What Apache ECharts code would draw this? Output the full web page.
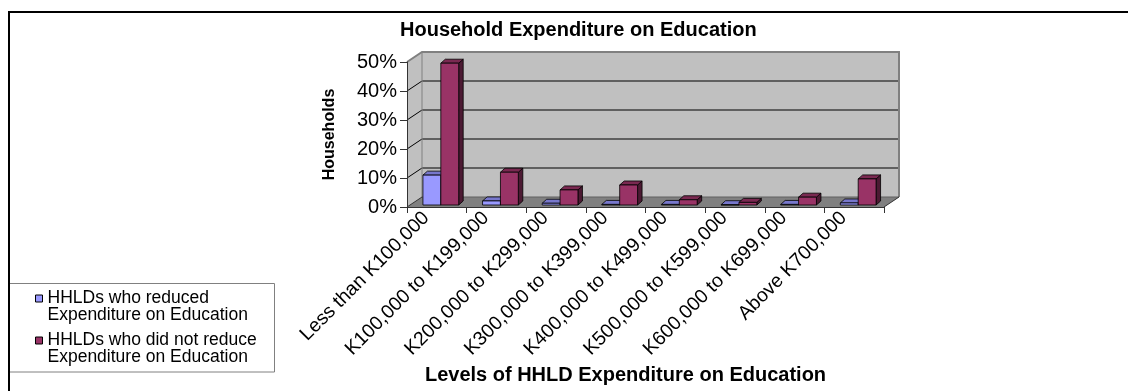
<!DOCTYPE html>
<html>
<head>
<meta charset="utf-8">
<script src="https://cdn.jsdelivr.net/npm/echarts@6/dist/echarts.min.js"></script>
<style>
  html, body { margin: 0; padding: 0; background: #fff; }
  #chart { width: 1128px; height: 391px; }
</style>
</head>
<body>
<div id="chart"></div>
<script>
// Expenditure bands (x categories)
const categories = [
  'Less than K100,000',
  'K100,000 to K199,000',
  'K200,000 to K299,000',
  'K300,000 to K399,000',
  'K400,000 to K499,000',
  'K500,000 to K599,000',
  'K600,000 to K699,000',
  'Above K700,000'
];
// Share of households (%) per band
const reduced    = [10.3, 1.4, 0.6, 0.2, 0.2, 0.1, 0.2, 0.7];
const notReduced = [48.9, 11.3, 5.2, 6.9, 1.8, 0.9, 2.7, 9.0];
// Value axis ticks (%)
const yTicks = [0, 10, 20, 30, 40, 50];

const seriesNames = [
  'HHLDs who reduced\nExpenditure on Education',
  'HHLDs who did not reduce\nExpenditure on Education'
];

const FONT = '"Liberation Sans", Arial, sans-serif';
// pseudo-3D geometry
const WALL_DEPTH = [15, -10];   // offset of the back wall from the front plane
const BAR_OFFSET = [4, -2];     // front face of the bars relative to the front plane
const BAR_DEPTH = [4.5, -4];    // thickness of each column
const BAR_RATIO = 0.3;          // column width as share of a category band

const palette = [
  { front: '#9999FF', top: '#7777CC', side: '#4D4D80' },
  { front: '#993366', top: '#7A2951', side: '#4C1A33' }
];

function wallRenderer(params, api) {
  const cs = params.coordSys;
  const [dx, dy] = WALL_DEPTH;
  const x0 = cs.x, x1 = cs.x + cs.width;
  const yBase = api.coord([0, 0])[1];
  const yTop = api.coord([0, yTicks[yTicks.length - 1]])[1];
  const children = [];
  // back wall
  children.push({ type: 'rect', shape: { x: x0 + dx, y: yTop + dy, width: cs.width, height: yBase - yTop },
    style: { fill: '#C0C0C0', stroke: null } });
  // side wall
  children.push({ type: 'polygon', shape: { points: [[x0, yTop], [x0 + dx, yTop + dy], [x0 + dx, yBase + dy], [x0, yBase]] },
    style: { fill: '#C0C0C0', stroke: null } });
  // floor
  children.push({ type: 'polygon', shape: { points: [[x0, yBase], [x1, yBase], [x1 + dx, yBase + dy], [x0 + dx, yBase + dy]] },
    style: { fill: '#808080', stroke: null } });
  // gridlines on back wall and side wall
  yTicks.forEach(function (v, i) {
    if (i === 0 || i === yTicks.length - 1) return;
    const y = api.coord([0, v])[1];
    children.push({ type: 'line', shape: { x1: x0 + dx, y1: y + dy, x2: x1 + dx, y2: y + dy },
      style: { stroke: '#000', lineWidth: 1 } });
    children.push({ type: 'line', shape: { x1: x0, y1: y, x2: x0 + dx, y2: y + dy },
      style: { stroke: '#000', lineWidth: 1 } });
  });
  // wall outlines
  children.push({ type: 'polyline', shape: { points: [[x0, yTop], [x0 + dx, yTop + dy], [x1 + dx, yTop + dy], [x1 + dx, yBase + dy]] },
    style: { stroke: '#808080', lineWidth: 2, fill: null } });
  children.push({ type: 'line', shape: { x1: x0 + dx, y1: yTop + dy, x2: x0 + dx, y2: yBase + dy },
    style: { stroke: '#808080', lineWidth: 1 } });
  children.push({ type: 'line', shape: { x1: x0 + dx, y1: yBase + dy, x2: x1 + dx, y2: yBase + dy },
    style: { stroke: '#606060', lineWidth: 1 } });
  children.push({ type: 'line', shape: { x1: x0, y1: yBase, x2: x0 + dx, y2: yBase + dy },
    style: { stroke: '#333', lineWidth: 1 } });
  children.push({ type: 'line', shape: { x1: x1, y1: yBase, x2: x1 + dx, y2: yBase + dy },
    style: { stroke: '#333', lineWidth: 1 } });
  return { type: 'group', children: children };
}

function barRenderer(sideIndex) {
  const c = palette[sideIndex];
  return function (params, api) {
    const idx = api.value(0);
    const val = api.value(1);
    const topPt = api.coord([idx, val]);
    const basePt = api.coord([idx, 0]);
    const band = api.size([1, 0])[0];
    const w = band * BAR_RATIO;
    const x0 = topPt[0] + (sideIndex === 0 ? -w : 0) + BAR_OFFSET[0];
    const x1 = x0 + w;
    const yt = topPt[1] + BAR_OFFSET[1];
    const yb = basePt[1] + BAR_OFFSET[1];
    const dx = BAR_DEPTH[0], dy = BAR_DEPTH[1];
    const line = { stroke: '#000', lineWidth: 0.8 };
    return {
      type: 'group',
      children: [
        { type: 'polygon', shape: { points: [[x1, yt], [x1 + dx, yt + dy], [x1 + dx, yb + dy], [x1, yb]] },
          style: Object.assign({ fill: c.side }, line) },
        { type: 'polygon', shape: { points: [[x0, yt], [x1, yt], [x1 + dx, yt + dy], [x0 + dx, yt + dy]] },
          style: Object.assign({ fill: c.top }, line) },
        { type: 'rect', shape: { x: x0, y: yt, width: w, height: Math.max(yb - yt, 0) },
          style: Object.assign({ fill: c.front }, line) }
      ]
    };
  };
}

const chart = echarts.init(document.getElementById('chart'), null, { renderer: 'canvas' });

chart.setOption({
  backgroundColor: '#fff',
  animation: false,
  title: {
    text: 'Household Expenditure on Education',
    left: 400,
    top: 20,
    padding: 0,
    textStyle: { fontFamily: FONT, fontSize: 20, fontWeight: 'bold', color: '#000' }
  },
  legend: {
    orient: 'vertical',
    left: 35,
    top: 272.5,
    padding: 0,
    itemGap: -10,
    itemWidth: 7,
    itemHeight: 7,
    selectedMode: false,
    // a leading blank line keeps each marker level with the first text line
    formatter: function (name) { return '\n' + name; },
    data: seriesNames.map(function (n, i) {
      return { name: n, icon: 'rect', itemStyle: { color: palette[i].front, borderColor: '#000', borderWidth: 1 } };
    }),
    textStyle: { fontFamily: FONT, fontSize: 17.5, color: '#000', lineHeight: 17 }
  },
  grid: { left: 407, top: 62, width: 477, height: 145, containLabel: false },
  xAxis: {
    type: 'category',
    data: categories,
    z: 10,
    name: 'Levels of HHLD Expenditure on Education',
    nameLocation: 'middle',
    nameGap: 158,
    nameTextStyle: { fontFamily: FONT, fontSize: 20, fontWeight: 'bold', color: '#000', padding: [0, 40, 0, 0] },
    axisLine: { show: true, lineStyle: { color: '#333', width: 1 } },
    axisTick: { show: true, length: 6, lineStyle: { color: '#333' } },
    axisLabel: {
      interval: 0, rotate: 45, margin: 11.5,
      verticalAlign: 'bottom', padding: [0, 5, 0, 0],
      fontFamily: FONT, fontSize: 19.5, color: '#000'
    },
    splitLine: { show: false }
  },
  yAxis: {
    type: 'value',
    min: 0,
    max: 50,
    interval: 10,
    z: 10,
    name: 'Households',
    nameLocation: 'middle',
    nameGap: 69,
    nameTextStyle: { fontFamily: FONT, fontSize: 16, fontWeight: 'bold', color: '#000' },
    axisLine: { show: true, lineStyle: { color: '#333', width: 1 } },
    axisTick: { show: true, length: 7, lineStyle: { color: '#333' } },
    axisLabel: { formatter: '{value}%', margin: 10, fontFamily: FONT, fontSize: 20, color: '#000' },
    splitLine: { show: false }
  },
  graphic: [
    { type: 'rect', z: 0, silent: true,
      shape: { x: 8.5, y: 283.5, width: 266, height: 88.5 },
      style: { fill: '#fff', stroke: '#808080', lineWidth: 1 } },
    { type: 'rect', z: 100, silent: true,
      shape: { x: 9, y: 12, width: 1200, height: 500 },
      style: { fill: null, stroke: '#000', lineWidth: 2 } }
  ],
  series: [
    {
      type: 'custom',
      name: 'walls',
      z: 1,
      silent: true,
      clip: false,
      renderItem: wallRenderer,
      data: [[0, 0]],
      encode: { x: 0, y: 1 }
    },
    {
      type: 'custom',
      name: seriesNames[0],
      z: 3,
      clip: false,
      itemStyle: { color: palette[0].front },
      renderItem: barRenderer(0),
      data: reduced.map(function (v, i) { return [i, v]; }),
      encode: { x: 0, y: 1 }
    },
    {
      type: 'custom',
      name: seriesNames[1],
      z: 3,
      clip: false,
      itemStyle: { color: palette[1].front },
      renderItem: barRenderer(1),
      data: notReduced.map(function (v, i) { return [i, v]; }),
      encode: { x: 0, y: 1 }
    }
  ]
});
</script>
</body>
</html>
